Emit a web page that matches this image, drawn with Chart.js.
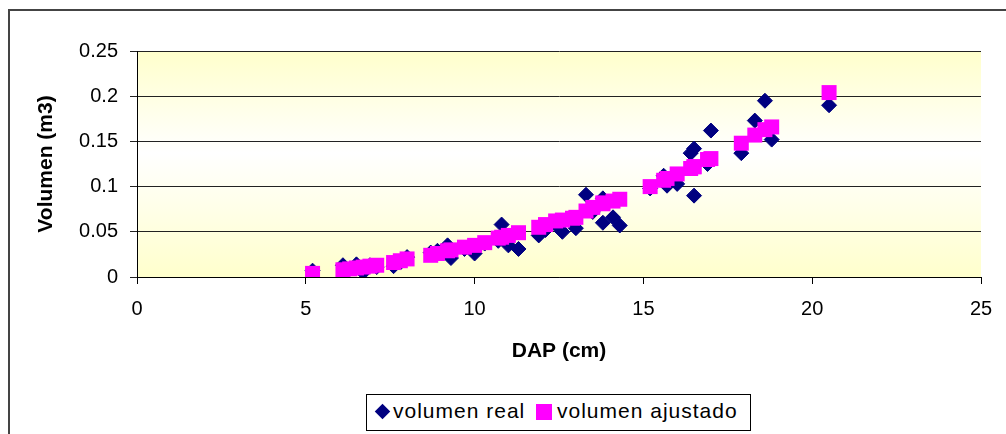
<!DOCTYPE html>
<html>
<head>
<meta charset="utf-8">
<script src="https://cdn.jsdelivr.net/npm/chart.js@4/dist/chart.umd.min.js"></script>
<style>
  html, body { margin: 0; padding: 0; background: #fff; overflow: hidden; }
  #wrap { position: relative; width: 1006px; height: 434px; }
  #frame { position: absolute; left: 8px; top: 9px; width: 1010px; height: 440px;
           border: 2px solid #444; box-sizing: border-box; pointer-events: none; }
  #legend { position: absolute; left: 366px; top: 394px; width: 385px; height: 37px;
            border: 1px solid #000; box-sizing: border-box; background: #fff;
            font-family: "Liberation Sans", Arial, sans-serif; font-size: 21px; letter-spacing: 1px; color: #000; }
  #legend span { position: absolute; top: 4px; white-space: nowrap; }
  .mk-diamond { position: absolute; left: 10px; top: 11px; width: 11px; height: 11px;
                background: #000080; transform: rotate(45deg); }
  .mk-square { position: absolute; left: 169px; top: 9px; width: 16px; height: 16px; background: #ff00ff; }
</style>
</head>
<body>
<div id="wrap">
  <canvas id="myChart" width="1006" height="434"></canvas>
  <div id="frame"></div>
  <div id="legend">
    <div class="mk-diamond"></div><span style="left:26px">volumen real</span>
    <div class="mk-square"></div><span style="left:190px">volumen ajustado</span>
  </div>
</div>
<script>
// DAP of each tree (cm)
const dap = [5.2, 6.1, 6.3, 6.5, 6.7, 6.9, 7.1, 7.6, 7.8, 8.0,
    8.7, 8.9, 9.2, 9.3, 9.7, 10.0, 10.3, 10.7, 10.8, 11.0,
    11.3, 11.9, 12.1, 12.4, 12.6, 12.9, 13.0, 13.3, 13.5, 13.8,
    13.8, 14.1, 14.3, 15.2, 15.6, 15.7, 16.0, 16.4, 16.5, 16.5,
    16.9, 17.0, 17.9, 18.3, 18.6, 18.8, 20.5];
// measured volume (m3)
const volReal = [0.007, 0.013, 0.009, 0.014, 0.005, 0.013, 0.011, 0.012, 0.016, 0.022,
    0.027, 0.029, 0.035, 0.021, 0.031, 0.026, 0.037, 0.040, 0.058, 0.035,
    0.031, 0.046, 0.052, 0.058, 0.050, 0.063, 0.054, 0.091, 0.072, 0.060,
    0.087, 0.066, 0.057, 0.098, 0.112, 0.101, 0.103, 0.137, 0.142, 0.090,
    0.125, 0.162, 0.137, 0.173, 0.195, 0.152, 0.190];
// volume from the fitted model (m3)
const volAjustado = [0.004, 0.008, 0.009, 0.010, 0.011, 0.012, 0.013, 0.016, 0.018, 0.020,
    0.024, 0.026, 0.029, 0.030, 0.033, 0.035, 0.038, 0.043, 0.044, 0.046,
    0.049, 0.055, 0.058, 0.062, 0.063, 0.065, 0.066, 0.073, 0.077, 0.081,
    0.082, 0.084, 0.086, 0.100, 0.107, 0.109, 0.114, 0.120, 0.122, 0.122,
    0.130, 0.131, 0.148, 0.157, 0.163, 0.166, 0.204];

const xTicks = [0, 5, 10, 15, 20, 25];
const yTicks = [0, 0.05, 0.1, 0.15, 0.2, 0.25];

const toPoints = (xs, ys) => xs.map((x, i) => ({x: x, y: ys[i]}));

// yellow-white-yellow fill behind the plot
const plotBg = {
    id: 'plotBg',
    beforeDraw(chart) {
        const {ctx, chartArea: a} = chart;
        const g = ctx.createLinearGradient(0, a.top, 0, a.bottom);
        g.addColorStop(0, '#ffffcc');
        g.addColorStop(0.45, '#ffffff');
        g.addColorStop(1, '#ffffcc');
        ctx.save();
        ctx.fillStyle = g;
        ctx.fillRect(a.left, a.top, a.right - a.left, a.bottom - a.top);
        ctx.restore();
    }
};

Chart.defaults.font.family = '"Liberation Sans", Arial, sans-serif';
Chart.defaults.color = '#000';

let myChart = new Chart('myChart', {
    type: 'scatter',
    data: {
        datasets: [{
            label: 'volumen real',
            data: toPoints(dap, volReal),
            pointStyle: 'rectRot',
            pointRadius: 7.5,
            pointHoverRadius: 7.5,
            backgroundColor: '#000080',
            borderColor: '#000080',
            borderWidth: 1,
            order: 1
        }, {
            label: 'volumen ajustado',
            data: toPoints(dap, volAjustado),
            pointStyle: 'rect',
            pointRadius: 10.6,
            pointHoverRadius: 10.6,
            backgroundColor: '#ff00ff',
            borderColor: '#ff00ff',
            borderWidth: 0,
            order: 0
        }]
    },
    options: {
        responsive: false,
        animation: false,
        events: [],
        layout: {padding: {left: 0, top: 51, right: 25, bottom: 0}},
        plugins: {legend: {display: false}, tooltip: {enabled: false}},
        scales: {
            x: {
                type: 'linear',
                min: 0, max: 25,
                afterFit: s => { s.height = 157; },
                afterBuildTicks: s => { s.ticks = xTicks.map(v => ({value: v})); },
                ticks: {font: {size: 20}, padding: 13},
                grid: {drawOnChartArea: false, drawTicks: true, tickLength: 7, color: '#000'},
                border: {display: true, color: '#000', width: 1},
                title: {display: true, text: 'DAP (cm)', font: {size: 21, weight: 'bold'},
                    padding: {top: 0, bottom: 70}}
            },
            y: {
                min: 0, max: 0.25,
                afterFit: s => { s.width = 137; },
                afterBuildTicks: s => { s.ticks = yTicks.map(v => ({value: v})); },
                ticks: {font: {size: 20}, padding: 12, callback: v => String(+v.toFixed(2))},
                grid: {drawTicks: true, tickLength: 7, color: '#222', lineWidth: 1},
                border: {display: true, color: '#000', width: 1},
                title: {display: true, text: 'Volumen (m3)', font: {size: 21, weight: 'bold'},
                    padding: {top: 34, bottom: 0}}
            }
        }
    },
    plugins: [plotBg]
});
</script>
</body>
</html>
